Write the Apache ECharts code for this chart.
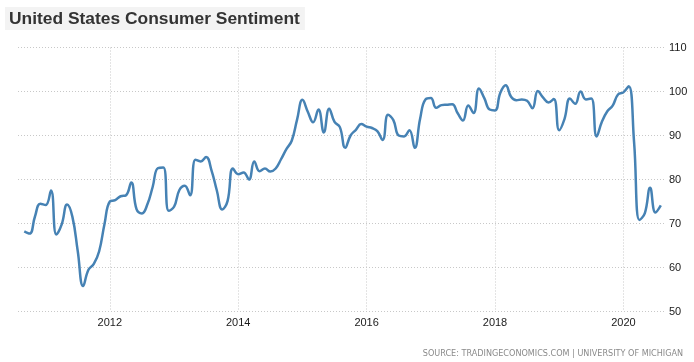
<!DOCTYPE html>
<html>
<head>
<meta charset="utf-8">
<script src="https://cdn.jsdelivr.net/npm/echarts@6/dist/echarts.min.js"></script>
<style>
html,body{margin:0;padding:0;background:#fff;}
#chart{width:694px;height:362px;}
</style>
</head>
<body>
<div id="chart"></div>
<script>
// Monthly observations, Sep 2010 .. Aug 2020
const startYear = 2010;
const startMonth = 9;
const sentiment = [
  68.2, 67.7, 71.6, 74.5,
  74.2, 77.5, 67.5, 69.8, 74.3, 71.5, 63.7, 55.8, 59.5, 60.8, 63.7, 69.9,
  75.0, 75.3, 76.2, 76.4, 79.3, 73.2, 72.3, 74.3, 78.3, 82.6, 82.7, 72.9,
  73.8, 77.6, 78.6, 76.4, 84.5, 84.1, 85.1, 82.1, 77.5, 73.2, 75.1, 82.5,
  81.2, 81.6, 80.0, 84.1, 81.9, 82.5, 81.8, 82.5, 84.6, 86.9, 88.8, 93.6,
  98.1, 95.4, 93.0, 95.9, 90.7, 96.1, 93.1, 91.9, 87.2, 90.0, 91.3, 92.6,
  92.0, 91.7, 91.0, 89.0, 94.7, 93.5, 90.0, 89.8, 91.2, 87.2, 93.8, 98.2,
  98.5, 96.3, 96.9, 97.0, 97.1, 95.1, 93.4, 96.8, 95.1, 100.7, 98.5, 95.9,
  95.7, 99.7, 101.4, 98.8, 98.0, 98.2, 97.9, 96.2, 100.1, 98.6, 97.5, 98.3,
  91.2, 93.8, 98.4, 97.2, 100.0, 98.2, 98.4, 89.8, 93.2, 95.5, 96.8, 99.3,
  99.8, 101.2, 88.5, 70.8, 72.3, 78.1, 72.5, 74.1
];
const yearTicks = [2012, 2014, 2016, 2018, 2020];
const yTicks = [50, 60, 70, 80, 90, 100, 110];
const titleText = 'United States Consumer Sentiment';
const sourceText = 'SOURCE: TRADINGECONOMICS.COM | UNIVERSITY OF MICHIGAN';

const points = sentiment.map((v, i) => {
  const mIdx = (startMonth - 1) + i;
  const yr = startYear + Math.floor(mIdx / 12);
  const mo = mIdx % 12;
  return [yr + mo / 12, v];
});

const chart = echarts.init(document.getElementById('chart'), null, {renderer: 'canvas'});
chart.setOption({
  animation: false,
  backgroundColor: '#ffffff',
  title: [{
    text: titleText,
    left: 5, top: 7,
    backgroundColor: '#f3f3f3',
    padding: [3, 5, 2, 4],
    textStyle: {fontFamily: 'Liberation Sans, Arial, sans-serif', fontSize: 17.4, fontWeight: 'bold', color: '#333333', lineHeight: 18}
  }, {
    text: sourceText,
    right: 11, top: 350,
    padding: 0,
    textStyle: {fontFamily: 'DejaVu Sans, Verdana, sans-serif', fontSize: 8.1, fontWeight: 'normal', color: '#8a8a8a'}
  }],
  grid: {left: 18, right: 28, top: 47.5, bottom: 50.5, containLabel: false},
  xAxis: {
    type: 'value',
    min: 2010.569, max: 2020.664,
    axisLine: {show: false},
    axisTick: {show: false, customValues: yearTicks},
    axisLabel: {customValues: yearTicks, formatter: v => String(Math.round(v)), color: '#1a1a1a', fontSize: 11, fontFamily: 'Liberation Sans, Arial, sans-serif', margin: 6},
    splitLine: {show: true, lineStyle: {color: '#c8c8c8', type: [1, 2], width: 1}}
  },
  yAxis: {
    type: 'value',
    position: 'right',
    min: yTicks[0], max: yTicks[yTicks.length - 1], interval: 10,
    axisLine: {show: false},
    axisTick: {show: false},
    axisLabel: {color: '#1a1a1a', fontSize: 11, fontFamily: 'Liberation Sans, Arial, sans-serif', margin: 3, align: 'left'},
    splitLine: {show: true, lineStyle: {color: '#c8c8c8', type: [1, 2], width: 1}}
  },
  series: [{
    type: 'line',
    data: points,
    showSymbol: false,
    smooth: 0.45,
    lineStyle: {color: '#4682b4', width: 2.5},
    itemStyle: {color: '#4682b4'}
  }]
});
</script>
</body>
</html>
